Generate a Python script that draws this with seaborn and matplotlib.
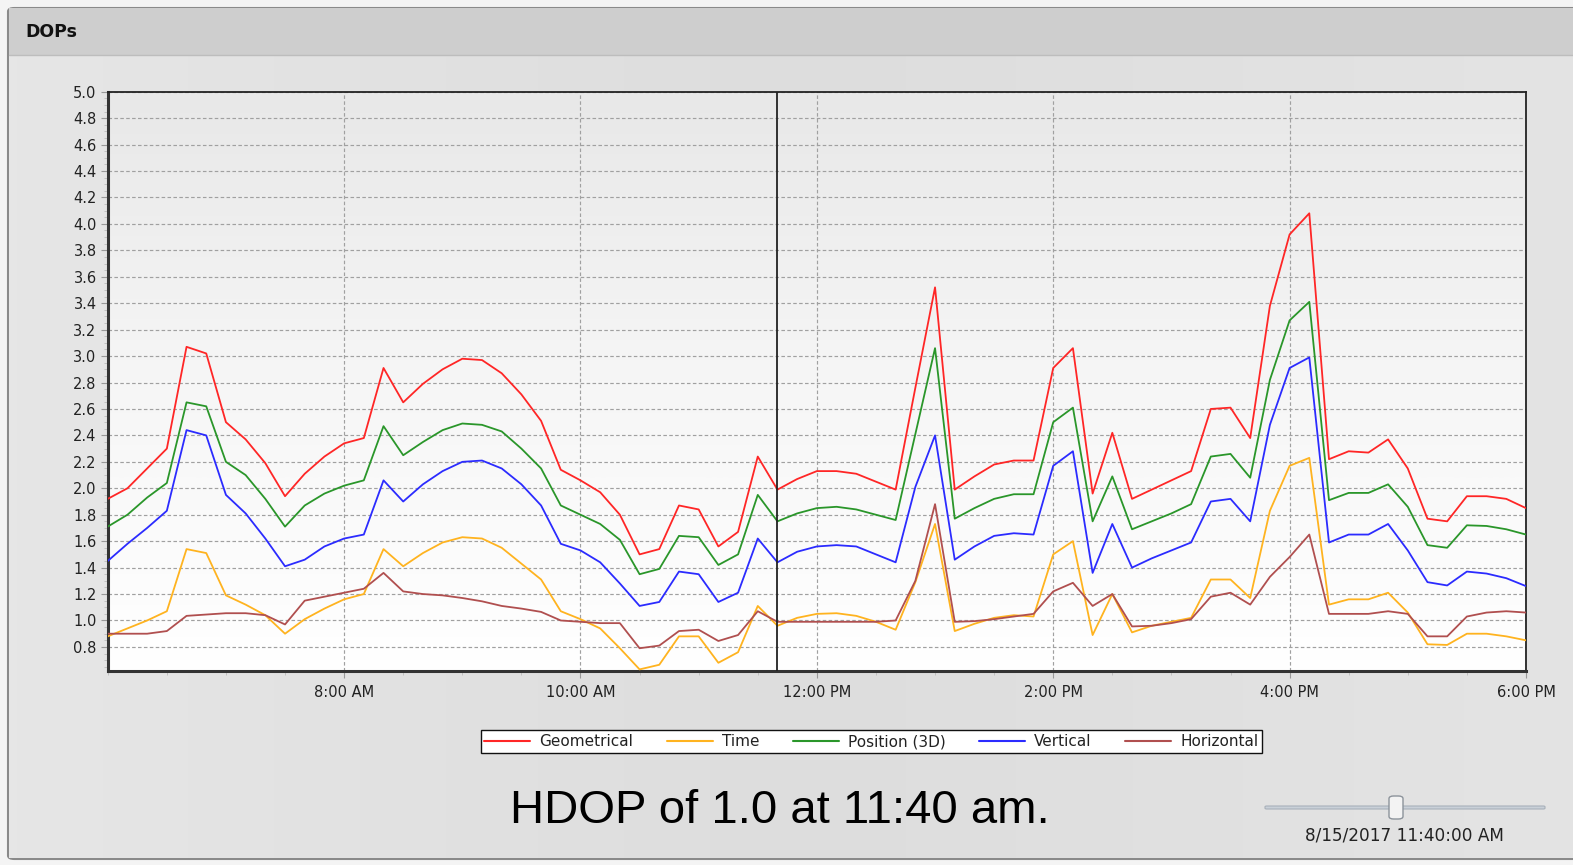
import numpy as np
import pandas as pd
import seaborn as sns
import matplotlib.pyplot as plt
import matplotlib.dates as mdates
from matplotlib import font_manager
from matplotlib.patches import FancyBboxPatch, Rectangle
from matplotlib.ticker import MultipleLocator, FormatStrFormatter

# data, one sample every 10 minutes from 6:00 AM to 6:00 PM
times = pd.date_range("2017-08-15 06:00", "2017-08-15 18:00", freq="10min")

geometrical = [1.92, 2.00, 2.15, 2.30, 3.07, 3.02, 2.50, 2.37, 2.19, 1.94, 2.11, 2.24, 2.34,
               2.38, 2.91, 2.65, 2.79, 2.90, 2.98, 2.97, 2.87, 2.71, 2.51, 2.14, 2.06, 1.97,
               1.80, 1.50, 1.54, 1.87, 1.84, 1.56, 1.67, 2.24, 1.99, 2.07, 2.13, 2.13, 2.11,
               2.05, 1.99, 2.76, 3.52, 1.99, 2.09, 2.18, 2.21, 2.21, 2.91, 3.06, 1.96, 2.42,
               1.92, 1.99, 2.06, 2.13, 2.60, 2.61, 2.38, 3.38, 3.92, 4.08, 2.22, 2.28, 2.27,
               2.37, 2.15, 1.77, 1.75, 1.94, 1.94, 1.92, 1.85]
time_dop = [0.88, 0.94, 1.00, 1.07, 1.54, 1.51, 1.19, 1.12, 1.04, 0.90, 1.01, 1.09, 1.16,
            1.20, 1.54, 1.41, 1.51, 1.59, 1.63, 1.62, 1.55, 1.43, 1.31, 1.07, 1.01, 0.94,
            0.79, 0.63, 0.665, 0.88, 0.88, 0.68, 0.76, 1.11, 0.96, 1.02, 1.05, 1.055, 1.035,
            0.99, 0.93, 1.29, 1.73, 0.92, 0.975, 1.02, 1.04, 1.03, 1.50, 1.60, 0.89, 1.20,
            0.91, 0.96, 0.99, 1.02, 1.31, 1.31, 1.17, 1.83, 2.17, 2.23, 1.12, 1.16, 1.16,
            1.21, 1.06, 0.82, 0.815, 0.90, 0.90, 0.88, 0.85]
position_3d = [1.71, 1.80, 1.93, 2.04, 2.65, 2.62, 2.20, 2.10, 1.92, 1.71, 1.87, 1.96, 2.02,
               2.06, 2.47, 2.25, 2.35, 2.44, 2.49, 2.48, 2.43, 2.30, 2.15, 1.87, 1.80, 1.73,
               1.61, 1.35, 1.39, 1.64, 1.63, 1.42, 1.50, 1.95, 1.75, 1.81, 1.85, 1.86, 1.84,
               1.80, 1.76, 2.41, 3.06, 1.77, 1.85, 1.92, 1.955, 1.955, 2.50, 2.61, 1.75, 2.09,
               1.69, 1.75, 1.81, 1.88, 2.24, 2.26, 2.08, 2.82, 3.27, 3.41, 1.91, 1.965, 1.965,
               2.03, 1.86, 1.57, 1.55, 1.72, 1.715, 1.69, 1.65]
vertical = [1.45, 1.58, 1.70, 1.83, 2.44, 2.40, 1.95, 1.81, 1.62, 1.41, 1.46, 1.56, 1.62,
            1.65, 2.06, 1.90, 2.03, 2.13, 2.20, 2.21, 2.15, 2.03, 1.87, 1.58, 1.53, 1.44,
            1.28, 1.11, 1.14, 1.37, 1.35, 1.14, 1.21, 1.62, 1.44, 1.52, 1.56, 1.57, 1.56,
            1.50, 1.44, 2.01, 2.40, 1.46, 1.56, 1.64, 1.66, 1.65, 2.17, 2.28, 1.36, 1.73,
            1.40, 1.47, 1.53, 1.59, 1.90, 1.92, 1.75, 2.48, 2.91, 2.99, 1.59, 1.65, 1.65,
            1.73, 1.53, 1.29, 1.265, 1.37, 1.355, 1.32, 1.26]
horizontal = [0.90, 0.90, 0.90, 0.92, 1.035, 1.045, 1.055, 1.055, 1.04, 0.97, 1.15, 1.18, 1.21,
              1.24, 1.36, 1.22, 1.20, 1.19, 1.17, 1.145, 1.11, 1.09, 1.065, 1.00, 0.99, 0.98,
              0.98, 0.79, 0.81, 0.92, 0.93, 0.845, 0.89, 1.07, 0.99, 0.99, 0.99, 0.99, 0.99,
              0.99, 1.00, 1.30, 1.88, 0.99, 0.995, 1.01, 1.03, 1.05, 1.22, 1.285, 1.11, 1.20,
              0.955, 0.96, 0.98, 1.01, 1.18, 1.21, 1.12, 1.33, 1.48, 1.65, 1.05, 1.05, 1.05,
              1.07, 1.05, 0.88, 0.88, 1.03, 1.06, 1.07, 1.06]

series_names = ["Geometrical", "Time", "Position (3D)", "Vertical", "Horizontal"]
series_colors = ["#ff2626", "#ffb31f", "#2a962a", "#2b2bff", "#b04f4f"]
tick_times = ["08:00", "10:00", "12:00", "14:00", "16:00", "18:00"]
tick_labels = ["8:00 AM", "10:00 AM", "12:00 PM", "2:00 PM", "4:00 PM", "6:00 PM"]
cursor_time = "11:40"
caption = "HDOP of 1.0 at 11:40 am."
slider_label = "8/15/2017 11:40:00 AM"

df = pd.DataFrame({
    "time": np.tile(times, len(series_names)),
    "dop": np.concatenate([geometrical, time_dop, position_3d, vertical, horizontal]),
    "series": np.repeat(series_names, len(times)),
})

sns.set_style("white")
plt.rcParams["font.family"] = ["DejaVu Sans"]

installed = {f.name for f in font_manager.fontManager.ttflist}
if "Liberation Sans Narrow" in installed:
    cap_family, cap_size = ["Liberation Sans Narrow", "DejaVu Sans"], 40
else:
    cap_family, cap_size = ["Liberation Sans", "DejaVu Sans"], 34

fig = plt.figure(figsize=(15.73, 8.65), dpi=100)
fig.patch.set_facecolor("#f4f4f4")

# panel + header
panel = FancyBboxPatch((8 / 1573, 6 / 865), 1.02, 1 - 14 / 865, boxstyle="round,pad=0,rounding_size=0.004",
                       transform=fig.transFigure, facecolor="#e3e3e3", edgecolor="#8a8a8a", lw=1.5, zorder=-5)
fig.add_artist(panel)
bg = np.linspace(0, 1, 512).reshape(1, -1)
bgax = fig.add_axes([9 / 1573, 7 / 865, 1, 1 - 62 / 865], zorder=-3)
bgax.imshow(bg, aspect="auto", interpolation="bilinear",
            cmap=sns.blend_palette(["#e6e6e6", "#dddddd", "#e4e4e4"], as_cmap=True))
bgax.axis("off")
fig.add_artist(Rectangle((9 / 1573, 1 - 55 / 865), 1, 47 / 865, transform=fig.transFigure,
                         facecolor="#cecece", edgecolor="none", zorder=-2))
fig.add_artist(plt.Line2D([9 / 1573, 1], [1 - 55 / 865] * 2, transform=fig.transFigure,
                          color="#bdbdbd", lw=1, zorder=-2))
fig.text(25 / 1573, 1 - 32 / 865, "DOPs", fontsize=12.5, fontweight="bold", va="center", color="#111111")

ax = fig.add_axes([0.0685, 0.2246, 0.9016, 0.6694], zorder=1)
ax.set_facecolor("white")
grad = np.linspace(0, 1, 512).reshape(-1, 1)
ax.imshow(grad, aspect="auto", extent=[0, 1, 0, 1], transform=ax.transAxes, zorder=0,
          interpolation="bilinear",
          cmap=sns.blend_palette(["#e8e8e8", "#f6f6f6", "#ffffff"], as_cmap=True))

sns.lineplot(data=df, x="time", y="dop", hue="series", hue_order=series_names,
             palette=dict(zip(series_names, series_colors)), linewidth=1.3, ax=ax, zorder=3)

ax.set_xlim(times[0], times[-1])
ax.set_ylim(0.62, 5.0)
ax.set_xlabel("")
ax.set_ylabel("")

day = "2017-08-15 "
ax.set_xticks(pd.to_datetime([day + t for t in tick_times]))
ax.set_xticklabels(tick_labels)
ax.xaxis.set_minor_locator(mdates.MinuteLocator(byminute=[0, 30]))
ax.yaxis.set_major_locator(MultipleLocator(0.2))
ax.yaxis.set_minor_locator(MultipleLocator(0.05))
ax.yaxis.set_major_formatter(FormatStrFormatter("%.1f"))
ax.tick_params(axis="both", which="major", direction="out", length=5, color="#999999",
               labelsize=10.5, labelcolor="#222222", left=True, bottom=True)
ax.tick_params(axis="both", which="minor", direction="out", length=3, color="#bbbbbb", left=True, bottom=True)
ax.tick_params(axis="x", pad=5)
ax.tick_params(axis="y", pad=3)

ax.grid(True, which="major", color="#a0a0a0", linestyle=(0, (3, 2)), linewidth=0.85, zorder=1)
ax.set_axisbelow(True)

ax.axvline(pd.to_datetime(day + cursor_time), color="#222222", lw=1.3, zorder=4)

for side in ["left", "bottom"]:
    ax.spines[side].set_color("#333333")
    ax.spines[side].set_linewidth(2.2)
for side in ["top", "right"]:
    ax.spines[side].set_color("#222222")
    ax.spines[side].set_linewidth(1.3)
    ax.spines[side].set_visible(True)

sns.move_legend(ax, "center", bbox_to_anchor=(0.554, 0.1425), bbox_transform=fig.transFigure,
                ncol=5, title=None, frameon=True, fancybox=False, fontsize=11, handlelength=3.0,
                handletextpad=0.6, columnspacing=2.2, borderpad=0.25, borderaxespad=0)
leg = ax.get_legend()
leg.get_frame().set_edgecolor("#111111")
leg.get_frame().set_facecolor("white")
leg.get_frame().set_alpha(1)
leg.get_frame().set_linewidth(1.0)
for t in leg.get_texts():
    t.set_color("#222222")
for h in leg.get_lines():
    h.set_linewidth(1.5)

fig.text(0.4959, 0.062, caption, fontsize=cap_size, family=cap_family,
         ha="center", va="center", color="black")

# slider
fig.add_artist(FancyBboxPatch((1265 / 1573, 1 - 809 / 865), 280 / 1573, 3 / 865,
                              boxstyle="round,pad=0,rounding_size=0.001", transform=fig.transFigure,
                              facecolor="#c9d0d8", edgecolor="#a8b0ba", lw=0.8))
fig.add_artist(FancyBboxPatch((1389 / 1573, 1 - 819 / 865), 14 / 1573, 23 / 865,
                              boxstyle="round,pad=0,rounding_size=0.003", transform=fig.transFigure,
                              facecolor="#f3f3f3", edgecolor="#8c939b", lw=1.0))
fig.text(0.8926, 0.034, slider_label, fontsize=12.2, ha="center", va="center", color="#222222")

fig.savefig("out.png", dpi=100, facecolor=fig.get_facecolor())
